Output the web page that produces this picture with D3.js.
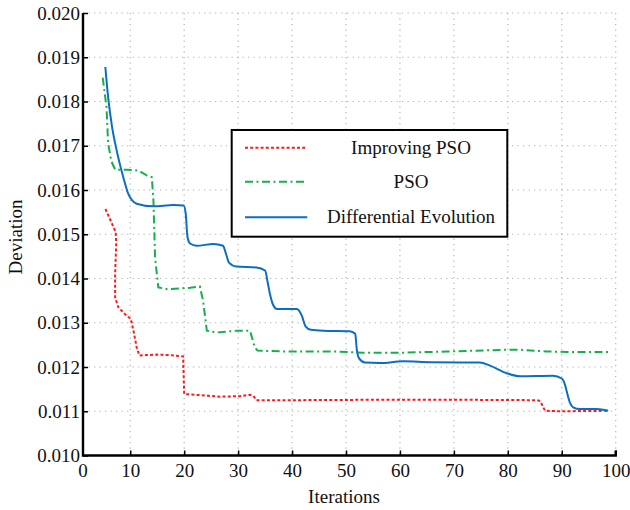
<!DOCTYPE html>
<html>
<head>
<meta charset="utf-8">
<script src="https://cdn.jsdelivr.net/npm/d3@7"></script>
<style>
  html, body { margin: 0; padding: 0; background: #fff; }
  svg { display: block; }
  text { font-family: "Liberation Serif", "Times New Roman", serif; fill: #111; }
</style>
</head>
<body>
<svg id="chart" width="630" height="510"></svg>
<script>
// Convergence of three optimisers: [iteration, deviation]
const improvingPSO = [
  [5.4,0.01557],[6.4,0.01530],[7.3,0.01505],[7.4,0.01480],[7.2,0.01410],[7.2,0.01357],
  [7.8,0.01335],[9.3,0.01316],[10.1,0.01309],[10.6,0.01282],[11.2,0.01244],[11.7,0.01226],
  [13.0,0.01227],[14.9,0.01228],[17.4,0.01227],[19.8,0.01224],[20.0,0.01139],[22.3,0.01137],
  [24.5,0.01135],[26.6,0.01133],[30.3,0.01134],[32.2,0.01137],[32.8,0.01135],[33.4,0.01125],
  [40,0.01125],[56.3,0.01126],[70,0.01126],[85.4,0.01125],[86.0,0.01123],[86.9,0.01101],
  [90,0.01100],[98.6,0.01101]
];
const pso = [
  [4.9,0.01854],[5.6,0.01787],[5.9,0.01705],[6.5,0.01665],[7.2,0.01646],[9.3,0.01646],
  [11.5,0.01644],[13.05,0.01633],[14.0,0.01629],[14.3,0.01576],[14.6,0.01448],[15.2,0.01380],
  [16.8,0.01376],[21.1,0.01379],[22.9,0.01382],[23.5,0.01350],[24.2,0.01282],[26,0.01278],
  [29.7,0.01282],[32.2,0.01282],[33.1,0.01244],[33.6,0.01237],[39,0.01235],[48.3,0.01235],
  [53.2,0.01232],[59.4,0.01232],[68.7,0.01235],[79.8,0.01239],[82.3,0.01239],[87.2,0.01235],
  [90.9,0.01234],[98.6,0.01234]
];
const differentialEvolution = [
  [5.38,0.01878],[5.9,0.01810],[6.6,0.01745],[7.49,0.01689],[8.71,0.01629],[9.64,0.01591],
  [10.4,0.01576],[11.2,0.01569],[14.3,0.01563],[18,0.01566],[19.9,0.01565],[20.3,0.01545],
  [20.6,0.01495],[21.1,0.01479],[22.3,0.01474],[25.4,0.01478],[27.2,0.01474],[27.7,0.01458],
  [28.3,0.01436],[29.7,0.01427],[33.4,0.01425],[35.0,0.01418],[35.5,0.01390],[35.9,0.01365],
  [36.5,0.01340],[37.2,0.01331],[40.9,0.01331],[41.8,0.01316],[42.5,0.01292],[43.5,0.01284],
  [45.8,0.01282],[50.7,0.01281],[51.7,0.01275],[52.0,0.01240],[52.4,0.01220],[53.5,0.01210],
  [56.3,0.01209],[60.6,0.01213],[65.6,0.01211],[74.8,0.01210],[76.7,0.01203],[79.8,0.01186],
  [82.3,0.01179],[88.4,0.01180],[90.0,0.01174],[90.6,0.01160],[90.9,0.01146],[91.5,0.01120],
  [92.1,0.01109],[93.4,0.01105],[96.5,0.01105],[98.6,0.01101]
];

const xTicks = [10,20,30,40,50,60,70,80,90,100];
const yTicks = [0.010,0.011,0.012,0.013,0.014,0.015,0.016,0.017,0.018,0.019,0.020];
const seriesNames = ["Improving PSO", "PSO", "Differential Evolution"];
const seriesColors = ["#ff1a1a", "#16b04a", "#0a6fc2"];
const seriesDash = ["3,2.2", "8,3.5,2,3.5", null];

const svg = d3.select("#chart");
const plotLeft = 83, plotRight = 615.7, plotTop = 13, plotBottom = 455.5;
const fontSize = 19;

const x = d3.scaleLinear().domain([0, 100]).range([76.3, plotRight]);
const y = d3.scaleLinear().domain([0.010, 0.020]).range([plotBottom, plotTop]);

// dotted grid
const grid = svg.append("g").attr("stroke", "#b5b5b5").attr("stroke-width", 1.2)
  .attr("stroke-dasharray", "1.3,4.2");
grid.selectAll("line.h").data(yTicks.slice(1)).join("line")
  .attr("x1", plotLeft).attr("x2", plotRight)
  .attr("y1", d => y(d)).attr("y2", d => y(d));
grid.selectAll("line.v").data(xTicks).join("line")
  .attr("x1", d => x(d)).attr("x2", d => x(d))
  .attr("y1", plotTop).attr("y2", plotBottom);

// series
const line = d3.line().x(d => x(d[0])).y(d => y(d[1]));
const allSeries = [improvingPSO, pso, differentialEvolution];
const curves = [d3.curveLinear, d3.curveLinear, d3.curveMonotoneX];
allSeries.forEach((data, i) => {
  svg.append("path")
    .datum(data)
    .attr("fill", "none")
    .attr("stroke", seriesColors[i])
    .attr("stroke-width", 2)
    .attr("stroke-dasharray", seriesDash[i])
    .attr("d", line.curve(curves[i]));
});

// axes
const xAxis = svg.append("g").attr("transform", `translate(0,${plotBottom})`)
  .call(d3.axisBottom(x).tickValues(xTicks).tickSizeInner(-5).tickSizeOuter(0).tickPadding(8));
xAxis.select(".domain").remove();
const yAxis = svg.append("g").attr("transform", `translate(${plotLeft},0)`)
  .call(d3.axisLeft(y).tickValues(yTicks).tickFormat(d3.format(".3f"))
    .tickSizeInner(-5).tickSizeOuter(0).tickPadding(3));
yAxis.select(".domain").remove();
[xAxis, yAxis].forEach(g => {
  g.selectAll(".tick line").attr("stroke", "#000").attr("stroke-width", 1.5);
  g.selectAll(".tick text").attr("font-size", fontSize)
    .attr("font-family", "Liberation Serif, serif").attr("fill", "#111");
});
xAxis.selectAll(".tick text").attr("dy", "0.71em");

// axis lines
svg.append("path")
  .attr("d", `M${plotLeft},${plotTop}V${plotBottom}H${plotRight}V${plotBottom - 5}`)
  .attr("fill", "none").attr("stroke", "#000").attr("stroke-width", 2.4);

// origin label on the x axis
svg.append("text").attr("x", plotLeft).attr("y", plotBottom + 8).attr("dy", "0.71em")
  .attr("text-anchor", "middle").attr("font-size", fontSize).text("0");

// axis titles
svg.append("text").attr("x", 344).attr("y", 503).attr("text-anchor", "middle")
  .attr("font-size", fontSize).text("Iterations");
svg.append("text").attr("transform", "translate(22,237) rotate(-90)")
  .attr("text-anchor", "middle").attr("font-size", fontSize).text("Deviation");

// legend
const legend = svg.append("g");
legend.append("rect").attr("x", 231.7).attr("y", 130).attr("width", 275.6).attr("height", 106.7)
  .attr("fill", "#fff").attr("stroke", "#000").attr("stroke-width", 2);
const legendY = [147.7, 181.7, 217.3];
seriesNames.forEach((name, i) => {
  legend.append("line").attr("x1", 245).attr("x2", 307.3)
    .attr("y1", legendY[i]).attr("y2", legendY[i])
    .attr("stroke", seriesColors[i]).attr("stroke-width", 2)
    .attr("stroke-dasharray", seriesDash[i]);
  legend.append("text").attr("x", 411).attr("y", legendY[i] + 6)
    .attr("text-anchor", "middle").attr("font-size", fontSize).text(name);
});
</script>
</body>
</html>
